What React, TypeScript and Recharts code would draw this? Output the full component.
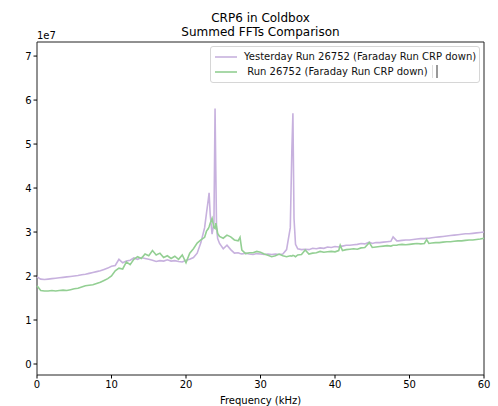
import React from "react";
import { LineChart, Line, XAxis, YAxis, Legend, ReferenceArea } from "recharts";

// Values in units of 1e7 (axis multiplier shown as "1e7")
const freqKHz = [
  0, 0.5, 1, 1.5, 2, 2.5, 3, 3.5, 4, 4.5, 5, 5.5, 6, 6.5, 7, 7.5, 8, 8.5, 9, 9.5,
  10, 10.5, 11, 11.5, 12, 12.5, 13, 13.5, 14, 14.5, 15, 15.5, 16, 16.5, 17, 17.5, 18, 18.5, 19, 19.5,
  20, 20.5, 21, 21.5, 22, 22.5, 22.75, 23, 23.1, 23.25, 23.5, 23.75, 23.9, 24, 24.1, 24.25, 24.5,
  25, 25.5, 26, 26.5, 27, 27.25, 27.5, 28, 28.5, 29, 29.5, 30, 30.5, 31, 31.5, 32, 32.5, 33, 33.5,
  34, 34.2, 34.35, 34.5, 34.7, 35, 35.5, 36, 36.5, 37, 37.5, 38, 38.5, 39, 39.5, 40, 40.5, 40.7,
  41, 41.5, 42, 42.5, 43, 43.5, 44, 44.6, 45, 45.5, 46, 46.5, 47, 47.5, 47.8, 48.3, 48.5, 49, 49.5,
  50, 50.5, 51, 51.5, 52, 52.3, 52.6, 53, 53.5, 54, 54.5, 55, 55.5, 56, 56.5, 57, 57.5, 58, 58.5,
  59, 59.5, 60,
];

const yesterdayRun = [
  1.98, 1.93, 1.92, 1.93, 1.94, 1.95, 1.96, 1.97, 1.98, 1.99, 2.0, 2.01, 2.03, 2.04, 2.06, 2.08, 2.1, 2.12, 2.15, 2.18,
  2.22, 2.24, 2.38, 2.3, 2.34, 2.36, 2.41, 2.38, 2.42, 2.4, 2.38, 2.36, 2.33, 2.35, 2.34, 2.37, 2.34, 2.35, 2.33, 2.32,
  2.36, 2.38, 2.42, 2.52, 2.76, 3.1, 3.43, 3.75, 3.89, 3.4, 2.95, 3.2, 5.81, 4.4, 3.1, 2.85, 2.74,
  2.62, 2.7, 2.6, 2.52, 2.53, 2.51, 2.5, 2.52, 2.5, 2.49, 2.51, 2.5, 2.49, 2.5, 2.49, 2.5, 2.49, 2.5, 2.6,
  3.1, 4.8, 5.7, 3.3, 2.72, 2.62, 2.6, 2.61, 2.6, 2.63, 2.62, 2.64, 2.63, 2.66, 2.65, 2.67, 2.66, 2.68,
  2.68, 2.7, 2.7, 2.71, 2.72, 2.74, 2.73, 2.77, 2.74, 2.76, 2.76, 2.77, 2.78, 2.79, 2.89, 2.8, 2.8, 2.81, 2.82,
  2.82, 2.83, 2.84, 2.85, 2.85, 2.86, 2.86, 2.87, 2.88, 2.89, 2.9, 2.91, 2.92, 2.93, 2.94, 2.95, 2.96, 2.96, 2.97,
  2.98, 2.99, 3.0,
];

const todayRun = [
  1.78, 1.67, 1.66, 1.66, 1.67, 1.66, 1.67, 1.68, 1.67, 1.69, 1.71, 1.72, 1.75, 1.78, 1.79, 1.8, 1.83, 1.86, 1.9, 1.94,
  2.0, 2.12, 2.18, 2.16, 2.32, 2.26, 2.38, 2.44, 2.4, 2.5, 2.46, 2.58, 2.48, 2.52, 2.42, 2.46, 2.4, 2.45, 2.38, 2.48,
  2.3, 2.52, 2.62, 2.75, 2.82, 2.88, 3.02, 3.08, 3.12, 3.2, 3.31, 3.1, 3.08, 3.2, 3.12, 2.97, 2.9,
  2.86, 2.93, 2.89, 2.82, 2.8, 2.88, 2.59, 2.51, 2.53, 2.53, 2.56, 2.54, 2.5, 2.47, 2.44, 2.46, 2.5, 2.46, 2.44,
  2.46, 2.45, 2.47, 2.46, 2.44, 2.48, 2.49, 2.59, 2.5, 2.52, 2.53, 2.56, 2.54, 2.55, 2.56, 2.55, 2.58, 2.7,
  2.58, 2.6, 2.61, 2.62, 2.61, 2.64, 2.65, 2.76, 2.65, 2.66, 2.67, 2.68, 2.69, 2.68, 2.7, 2.7, 2.71, 2.72, 2.71,
  2.72, 2.73, 2.74, 2.73, 2.74, 2.83, 2.74, 2.75, 2.76, 2.76, 2.77, 2.78, 2.78, 2.79, 2.8, 2.8, 2.81, 2.82, 2.82,
  2.83, 2.84, 2.86,
];

const xTicks = [0, 10, 20, 30, 40, 50, 60];
const yTicks = [0, 1, 2, 3, 4, 5, 6, 7];
const seriesNames = [
  "Yesterday Run 26752 (Faraday Run CRP down)",
  " Run 26752 (Faraday Run CRP down)",
];
const titleLines = ["CRP6 in Coldbox", "Summed FFTs Comparison"];

const data = freqKHz.map((f, i) => ({ f, yesterday: yesterdayRun[i], today: todayRun[i] }));

const FONT = "'DejaVu Sans', sans-serif";
const FS = 10;
const PURPLE = "#c7b1de";
const GREEN = "#93cf93";

const LegendBox = () => {
  const colors = [PURPLE, GREEN];
  return (
    <div
      style={{
        border: "1px solid #d6d6d6",
        borderRadius: 3,
        background: "rgba(255,255,255,0.8)",
        padding: "2px 4px 3px 4px",
        fontFamily: FONT,
        fontSize: FS,
        color: "#111",
        boxSizing: "border-box",
        width: 270,
      }}
    >
      {seriesNames.map((name, i) => (
        <div key={i} style={{ display: "flex", alignItems: "center", height: 15, whiteSpace: "pre" }}>
          <svg width={29} height={10} style={{ flex: "none" }}>
            <line x1={0} y1={5} x2={22} y2={5} stroke={colors[i]} strokeWidth={1.6} />
          </svg>
          <span>{name}</span>
          {i === 1 && (
            <span style={{ display: "inline-block", marginLeft: 4, height: 13, width: 3, borderLeft: "1px solid #ddd", borderRight: "2px solid #999" }} />
          )}
        </div>
      ))}
    </div>
  );
};

export default function App() {
  return (
    <div style={{ position: "absolute", left: 0, top: 0, width: 498, height: 406, background: "#fff" }}>
      <div
        style={{
          position: "absolute",
          left: 37,
          width: 447,
          top: 11,
          textAlign: "center",
          fontFamily: FONT,
          fontSize: 12,
          lineHeight: "14px",
          color: "#000",
        }}
      >
        {titleLines.map((t, i) => (
          <div key={i}>{t}</div>
        ))}
      </div>
      <LineChart width={498} height={406} data={data} margin={{ top: 42, right: 14, bottom: 0, left: 0 }}>
        <XAxis
          dataKey="f"
          type="number"
          domain={[0, 60]}
          ticks={xTicks}
          height={31}
          tickSize={3.5}
          tickLine={{ stroke: "#000" }}
          axisLine={false}
          tick={{ fontFamily: FONT, fontSize: FS, fill: "#000" }}
          interval={0}
          label={(props: any) => {
            const vb = props.viewBox;
            return (
              <text x={vb.x + vb.width / 2} y={404} textAnchor="middle" fontFamily={FONT} fontSize={FS} fill="#000">
                Frequency (kHz)
              </text>
            );
          }}
        />
        <YAxis
          type="number"
          domain={[-0.25, 7.32]}
          ticks={yTicks}
          width={37}
          tickSize={3.5}
          tickLine={{ stroke: "#000" }}
          axisLine={false}
          allowDataOverflow
          tick={{ fontFamily: FONT, fontSize: FS, fill: "#000" }}
          interval={0}
          label={() => (
            <text x={37} y={39} textAnchor="start" fontFamily={FONT} fontSize={FS} fill="#000">
              1e7
            </text>
          )}
        />
        <ReferenceArea x1={0} x2={60} y1={-0.25} y2={7.32} fill="none" fillOpacity={0} stroke="#222" strokeWidth={1} ifOverflow="extendDomain" />
        <Line
          dataKey="yesterday"
          name={seriesNames[0]}
          stroke={PURPLE}
          strokeWidth={1.6}
          dot={false}
          activeDot={false}
          isAnimationActive={false}
          type="linear"
        />
        <Line
          dataKey="today"
          name={seriesNames[1]}
          stroke={GREEN}
          strokeWidth={1.6}
          dot={false}
          activeDot={false}
          isAnimationActive={false}
          type="linear"
        />
        <Legend
          layout="horizontal"
          verticalAlign="middle"
          align="center"
          wrapperStyle={{ left: 210, top: 46, width: 270, height: 34 }}
          content={() => <LegendBox />}
        />
      </LineChart>
    </div>
  );
}
